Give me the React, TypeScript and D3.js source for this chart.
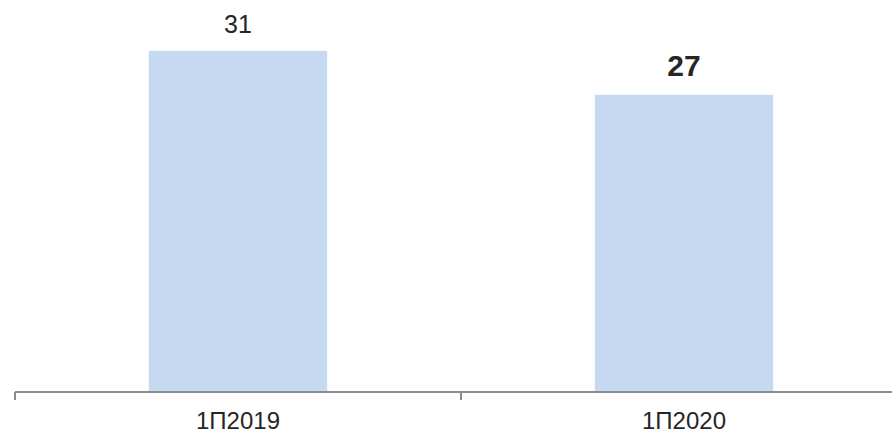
import React from "react";
import * as d3 from "d3";

// data
const categories = ["1П2019", "1П2020"];
const values = [31, 27];

const WIDTH = 892;
const HEIGHT = 434;
const BAR_COLOR = "#c5daf0";
const AXIS_COLOR = "#8c8c8c";
const TEXT_COLOR = "#262626";
const FONT = "'Liberation Sans', Arial, sans-serif";

const App = () => {
  const x = d3
    .scaleBand<string>()
    .domain(categories)
    .range([15, 907])
    .paddingInner(0.6)
    .paddingOuter(0.3);

  const y = d3.scaleLinear().domain([0, 35]).range([391, 7]);

  const step = x.step();
  const start = x.range()[0];
  const bounds = d3.range(categories.length + 1).map((i) => start + i * step);
  const last = values.length - 1;

  return (
    <svg
      width={WIDTH}
      height={HEIGHT}
      style={{ position: "absolute", left: 0, top: 0, background: "#fff" }}
      fontFamily={FONT}
    >
      {/* Bars */}
      {values.map((v, i) => (
        <rect
          key={categories[i]}
          x={x(categories[i])}
          y={y(v)}
          width={x.bandwidth()}
          height={y(0) - y(v)}
          fill={BAR_COLOR}
        />
      ))}

      {/* Labels on bars - last one bold */}
      {values.map((v, i) => (
        <text
          key={"l" + i}
          x={(x(categories[i]) as number) + x.bandwidth() / 2}
          y={y(v) - (i === last ? 19 : 18)}
          textAnchor="middle"
          fill={TEXT_COLOR}
          fontSize={i === last ? 30 : 25}
          fontWeight={i === last ? "bold" : "normal"}
        >
          {v}
        </text>
      ))}

      {/* X Axis */}
      <line x1={start} x2={WIDTH + 20} y1={y(0) + 1} y2={y(0) + 1} stroke={AXIS_COLOR} strokeWidth={2} />
      {bounds.map((b, i) => (
        <line key={"t" + i} x1={b} x2={b} y1={y(0) + 1} y2={y(0) + 9} stroke={AXIS_COLOR} strokeWidth={2} />
      ))}
      {categories.map((c) => (
        <text
          key={c}
          x={(x(c) as number) + x.bandwidth() / 2}
          y={429}
          textAnchor="middle"
          fill={TEXT_COLOR}
          fontSize={24}
        >
          {c}
        </text>
      ))}
    </svg>
  );
};

export default App;
